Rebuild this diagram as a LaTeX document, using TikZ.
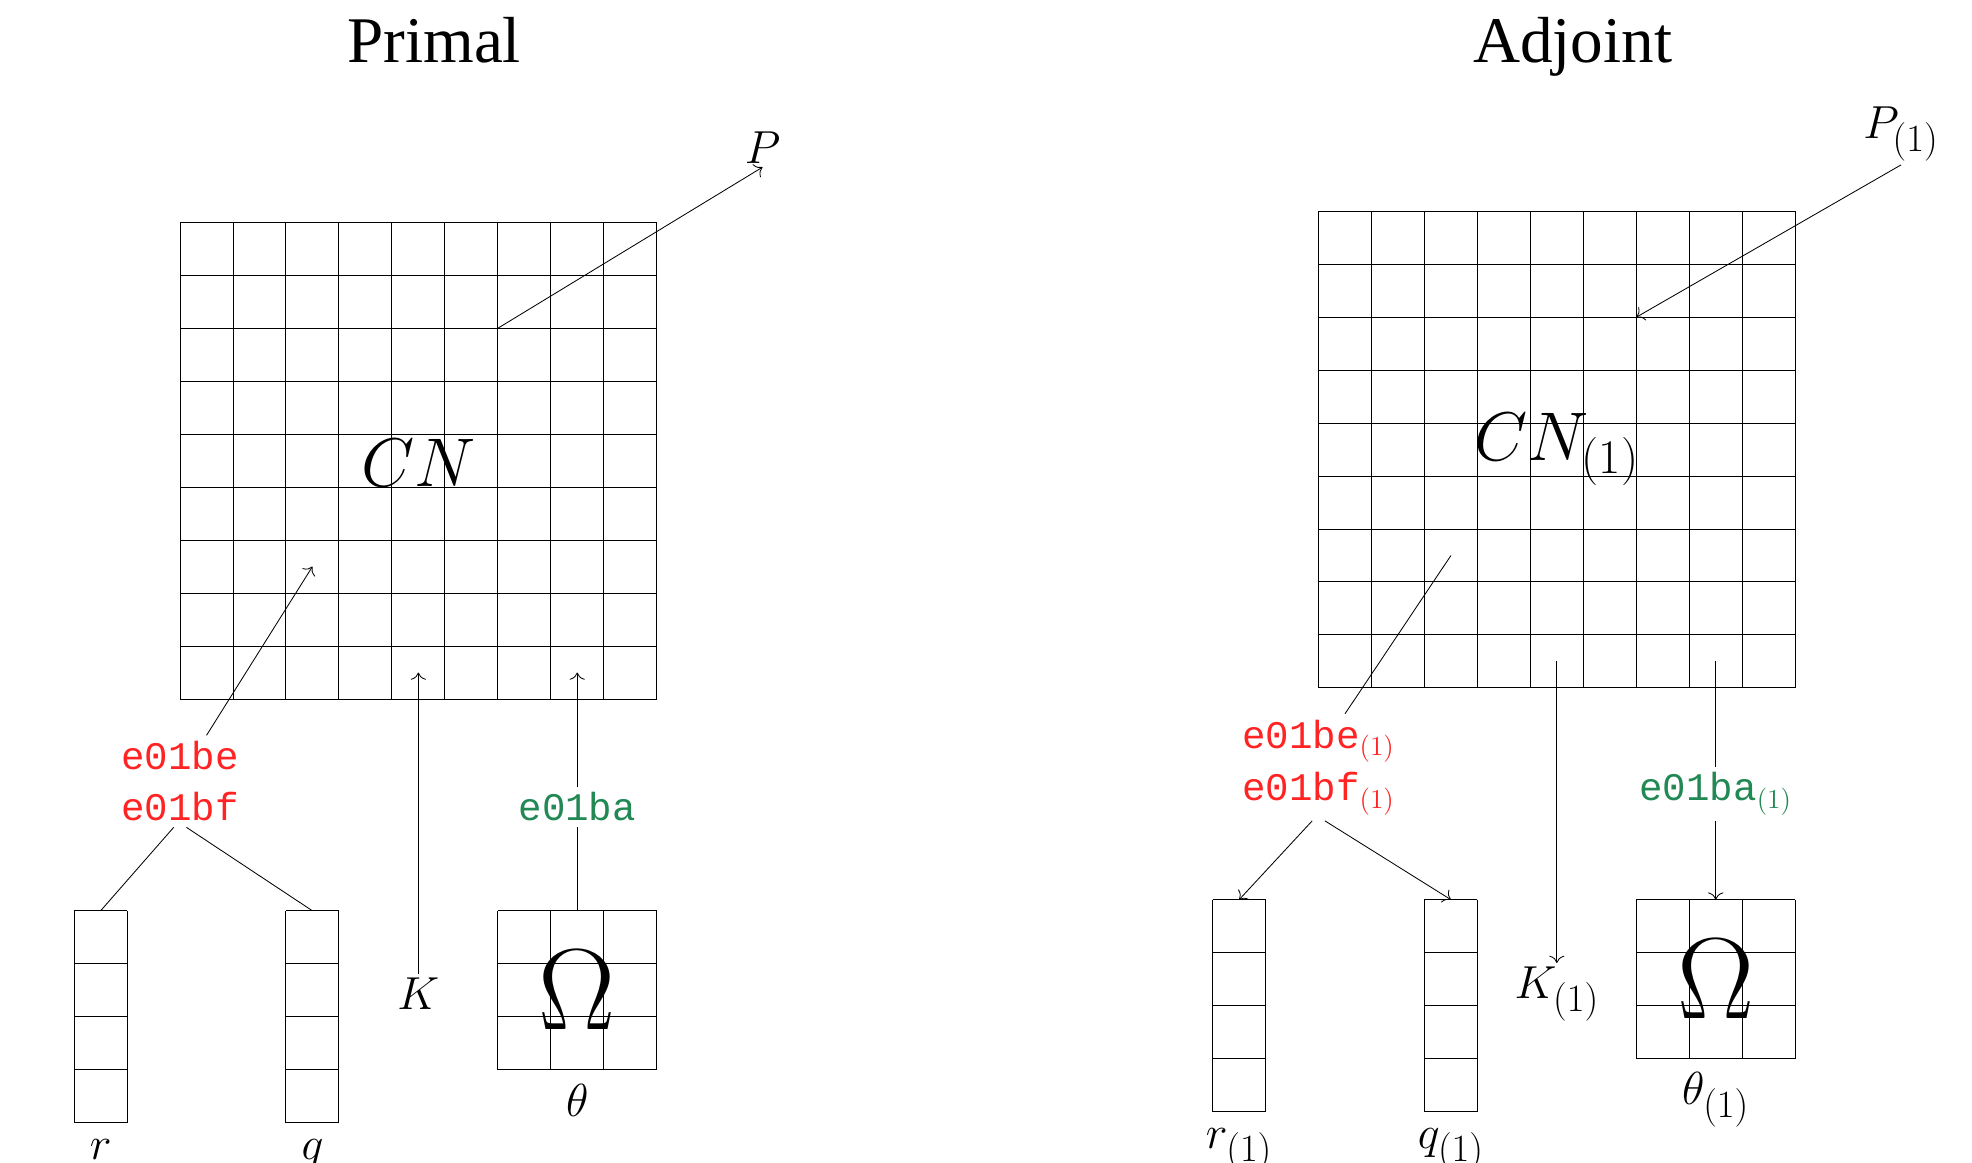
\documentclass[tikz,border=0pt]{standalone}
\usepackage{fix-cm}
\usepackage{fontspec}
\usepackage{tikz}
\usetikzlibrary{positioning, arrows.meta}
\newfontfamily\titlefont{Liberation Serif}
\setmonofont{Liberation Mono}
\definecolor{errred}{RGB}{255,35,35}
\definecolor{thgreen}{RGB}{34,136,84}

\begin{document}
\begin{tikzpicture}[
        lattice/.style={line width=0.5pt, step=1cm},
        arrow/.style={line width=0.45pt, -{To[scale=1.5]}},
        link/.style={line width=0.45pt},
        heading/.style={font=\titlefont\fontsize{35}{40}\selectfont, anchor=base},
        var/.style={font=\fontsize{24.88}{30}\selectfont, anchor=base, inner sep=2pt},
        field/.style={font=\fontsize{37}{44}\selectfont},
        param/.style={font=\fontsize{62}{70}\selectfont},
        tag/.style={font=\ttfamily\fontsize{21}{25}\selectfont, inner sep=3pt}
    ]
    \useasboundingbox (-3.4,-8.76) rectangle (33.84,13.2);

    % primal
    \node[heading] (primal) at (4.8,12.02) {Primal};
    \draw[lattice] (0,0) grid (9,9);
    \draw[lattice] (-2,-8) grid (-1,-4);
    \draw[lattice] (2,-8) grid (3,-4);
    \draw[lattice] (6,-7) grid (9,-4);
    \coordinate (p-src) at (6,7);
    \coordinate (e-dst) at (2.5,2.5);
    \coordinate (k-dst) at (4.5,0.5);
    \coordinate (a-dst) at (7.5,0.5);
    \coordinate (r-top) at (-1.5,-4);
    \coordinate (q-top) at (2.5,-4);
    \coordinate (o-top) at (7.5,-4);
    \node[field] (cn) at (4.5,4.45) {$CN$};
    \node[var] (P) at (11,10.12) {$P$};
    \node[tag, text=errred] (be) at (0,-1.07) {e01be};
    \node[tag, text=errred] (bf) at (0,-2.04) {e01bf};
    \node[tag, text=thgreen] (ba) at (7.5,-2.04) {e01ba};
    \node[var] (K) at (4.5,-5.87) {$K$};
    \node[param] (omega) at (7.5,-5.5) {$\Omega$};
    \node[var] (r) at (-1.5,-8.69) {$r$};
    \node[var] (q) at (2.5,-8.69) {$q$};
    \node[var] (theta) at (7.5,-7.88) {$\theta$};

    \draw[arrow] (p-src) -- (P.south);
    \draw[arrow] ([xshift=5mm]be.north) -- (e-dst);
    \draw[link] ([xshift=-1.2mm]bf.south) -- (r-top);
    \draw[link] ([xshift=1.2mm]bf.south) -- (q-top);
    \draw[arrow] (K.north) -- (k-dst);
    \draw[link] (o-top) -- (ba.south);
    \draw[arrow] (ba.north) -- (a-dst);

    % adjoint
    \begin{scope}[shift={(21.5,0.21)}]
    \node[heading] (adjoint) at (4.8,11.81) {Adjoint};
    \draw[lattice] (0,0) grid (9,9);
    \draw[lattice] (-2,-8) grid (-1,-4);
    \draw[lattice] (2,-8) grid (3,-4);
    \draw[lattice] (6,-7) grid (9,-4);
    \coordinate (p1-dst) at (6,7);
    \coordinate (e1-src) at (2.5,2.5);
    \coordinate (k1-src) at (4.5,0.5);
    \coordinate (a1-src) at (7.5,0.5);
    \coordinate (r1-top) at (-1.5,-4);
    \coordinate (q1-top) at (2.5,-4);
    \coordinate (o1-top) at (7.5,-4);
    \node[field] (cn1) at (4.5,4.5) {$CN_{(1)}$};
    \node[var] (P1) at (11,10.38) {$P_{(1)}$};
    \node[tag, text=errred] (be1) at (0,-1.0) {e01be$_{(1)}$};
    \node[tag, text=errred] (bf1) at (0,-2.0) {e01bf$_{(1)}$};
    \node[tag, text=thgreen] (ba1) at (7.5,-2.0) {e01ba$_{(1)}$};
    \node[var] (K1) at (4.5,-5.87) {$K_{(1)}$};
    \node[param] (omega1) at (7.5,-5.5) {$\Omega$};
    \node[var] (r1) at (-1.5,-8.7) {$r_{(1)}$};
    \node[var] (q1) at (2.5,-8.7) {$q_{(1)}$};
    \node[var] (theta1) at (7.5,-7.87) {$\theta_{(1)}$};

    \draw[arrow] (P1.south) -- (p1-dst);
    \draw[link] ([xshift=5mm]be1.north) -- (e1-src);
    \draw[arrow] ([xshift=-1.2mm]bf1.south) -- (r1-top);
    \draw[arrow] ([xshift=1.2mm]bf1.south) -- (q1-top);
    \draw[arrow] (k1-src) -- (K1.north);
    \draw[link] (a1-src) -- (ba1.north);
    \draw[arrow] (ba1.south) -- (o1-top);
    \end{scope}
\end{tikzpicture}
\end{document}
